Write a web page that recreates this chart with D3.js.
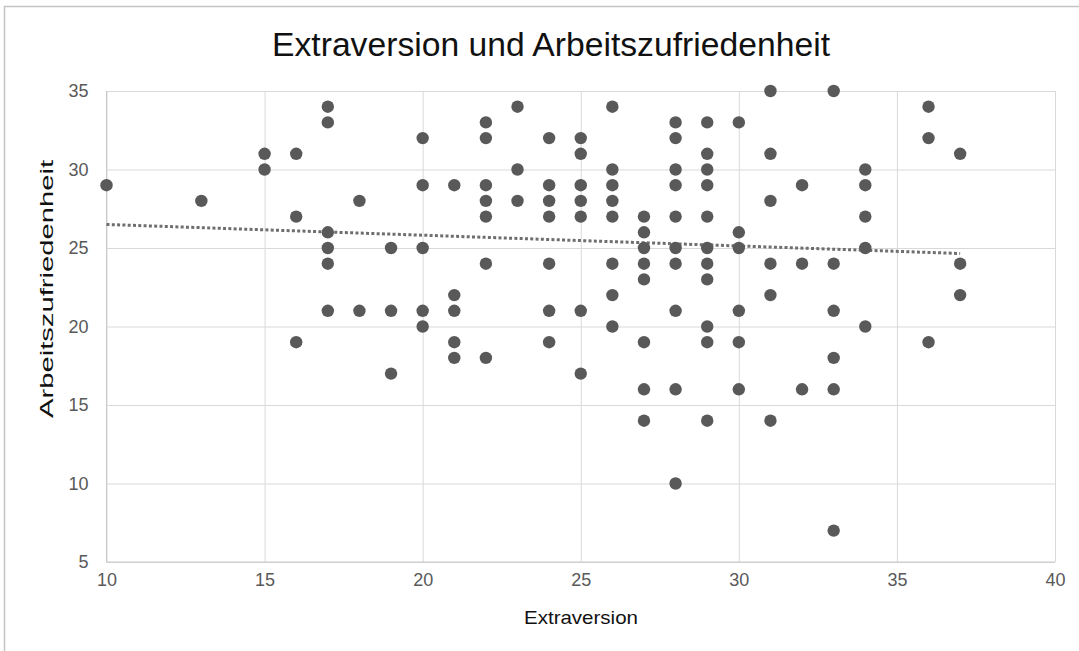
<!DOCTYPE html>
<html><head><meta charset="utf-8">
<script src="https://cdn.jsdelivr.net/npm/d3@7"></script>
<style>
html,body{margin:0;padding:0;background:#fff;}
svg{display:block;font-family:"Liberation Sans",Arial,sans-serif;}
</style></head>
<body><svg id="c" width="1079" height="651"></svg>
<script>
const title = "Extraversion und Arbeitszufriedenheit";
const xLabel = "Extraversion";
const yLabel = "Arbeitszufriedenheit";
const xTicks = [10, 15, 20, 25, 30, 35, 40];
const yTicks = [5, 10, 15, 20, 25, 30, 35];

const extraversion = [
  10,
  13,
  15, 15,
  16, 16, 16,
  17, 17, 17, 17, 17, 17,
  18, 18,
  19, 19, 19,
  20, 20, 20, 20, 20,
  21, 21, 21, 21, 21,
  22, 22, 22, 22, 22, 22, 22,
  23, 23, 23,
  24, 24, 24, 24, 24, 24, 24,
  25, 25, 25, 25, 25, 25, 25,
  26, 26, 26, 26, 26, 26, 26, 26,
  27, 27, 27, 27, 27, 27, 27, 27,
  28, 28, 28, 28, 28, 28, 28, 28, 28, 28,
  29, 29, 29, 29, 29, 29, 29, 29, 29, 29, 29,
  30, 30, 30, 30, 30, 30,
  31, 31, 31, 31, 31, 31,
  32, 32, 32,
  33, 33, 33, 33, 33, 33,
  34, 34, 34, 34, 34,
  36, 36, 36,
  37, 37, 37
];
const zufriedenheit = [
  29,
  28,
  31, 30,
  31, 27, 19,
  34, 33, 26, 25, 24, 21,
  28, 21,
  25, 21, 17,
  32, 29, 25, 21, 20,
  29, 22, 21, 19, 18,
  33, 32, 29, 28, 27, 24, 18,
  34, 30, 28,
  32, 29, 28, 27, 24, 21, 19,
  32, 31, 29, 28, 27, 21, 17,
  34, 30, 29, 28, 27, 24, 22, 20,
  27, 26, 25, 24, 23, 19, 16, 14,
  33, 32, 30, 29, 27, 25, 24, 21, 16, 10,
  33, 31, 30, 29, 27, 25, 24, 23, 20, 19, 14,
  33, 26, 25, 21, 19, 16,
  35, 31, 28, 24, 22, 14,
  29, 24, 16,
  35, 24, 21, 18, 16, 7,
  30, 29, 27, 25, 20,
  34, 32, 19,
  31, 24, 22
];

// linear trendline (endpoints)
const trendX = [10, 37];
const trendY = [26.5, 24.65];

const points = extraversion.map((x, i) => ({x, y: zufriedenheit[i]}));

const svg = d3.select("#c");
const m = {left: 106.5, right: 1055, top: 91, bottom: 562};
const x = d3.scaleLinear().domain([10, 40]).range([m.left, m.right]);
const y = d3.scaleLinear().domain([5, 35]).range([m.bottom, m.top]);

// outer frame
svg.append("path").attr("d", "M4.5,651 L4.5,6.5 L1079,6.5")
  .attr("fill", "none").attr("stroke", "#c4c4c4").attr("stroke-width", 1.5);

// grid
const g = svg.append("g");
g.append("g").attr("transform", `translate(0,${m.bottom})`)
  .call(d3.axisBottom(x).tickValues(xTicks).tickSize(-(m.bottom - m.top)).tickFormat(""))
  .call(s => s.select(".domain").remove())
  .selectAll("line").attr("stroke", "#d9d9d9");
g.append("g").attr("transform", `translate(${m.left},0)`)
  .call(d3.axisLeft(y).tickValues(yTicks).tickSize(-(m.right - m.left)).tickFormat(""))
  .call(s => s.select(".domain").remove())
  .selectAll("line").attr("stroke", "#d9d9d9");
svg.append("line").attr("x1", m.left).attr("x2", m.right).attr("y1", m.bottom).attr("y2", m.bottom)
  .attr("stroke", "#c8c8c8");
svg.append("line").attr("x1", m.left).attr("x2", m.left).attr("y1", m.top).attr("y2", m.bottom)
  .attr("stroke", "#c8c8c8");

// tick labels
const xa = svg.append("g").attr("transform", `translate(0,${m.bottom})`)
  .call(d3.axisBottom(x).tickValues(xTicks).tickSize(0).tickPadding(11).tickFormat(d3.format("d")));
xa.select(".domain").remove();
xa.selectAll("text").attr("font-size", 18).attr("fill", "#595959").attr("font-family", "Liberation Sans, Arial, sans-serif");
const ya = svg.append("g").attr("transform", `translate(${m.left},0)`)
  .call(d3.axisLeft(y).tickValues(yTicks).tickSize(0).tickPadding(18).tickFormat(d3.format("d")));
ya.select(".domain").remove();
ya.selectAll("text").attr("font-size", 18).attr("fill", "#595959").attr("font-family", "Liberation Sans, Arial, sans-serif");

// trendline
svg.append("line")
  .attr("x1", x(trendX[0])).attr("y1", y(trendY[0]))
  .attr("x2", x(trendX[1])).attr("y2", y(trendY[1]))
  .attr("stroke", "#6e6e6e").attr("stroke-width", 3).attr("stroke-dasharray", "3,2.3");

// points
svg.append("g").selectAll("circle").data(points).join("circle")
  .attr("cx", d => x(d.x)).attr("cy", d => y(d.y)).attr("r", 6.2)
  .attr("fill", "#595959");

// title & labels
svg.append("text").attr("x", 551).attr("y", 56).attr("text-anchor", "middle")
  .attr("font-size", 33).attr("fill", "#111")
  .attr("textLength", 558).attr("lengthAdjust", "spacingAndGlyphs").text(title);
svg.append("text").attr("x", 581).attr("y", 624).attr("text-anchor", "middle")
  .attr("font-size", 19).attr("fill", "#111")
  .attr("textLength", 114).attr("lengthAdjust", "spacingAndGlyphs").text(xLabel);
svg.append("text").attr("transform", "translate(53,289) rotate(-90)").attr("text-anchor", "middle")
  .attr("font-size", 19).attr("fill", "#111")
  .attr("textLength", 258).attr("lengthAdjust", "spacingAndGlyphs").text(yLabel);
</script></body></html>
